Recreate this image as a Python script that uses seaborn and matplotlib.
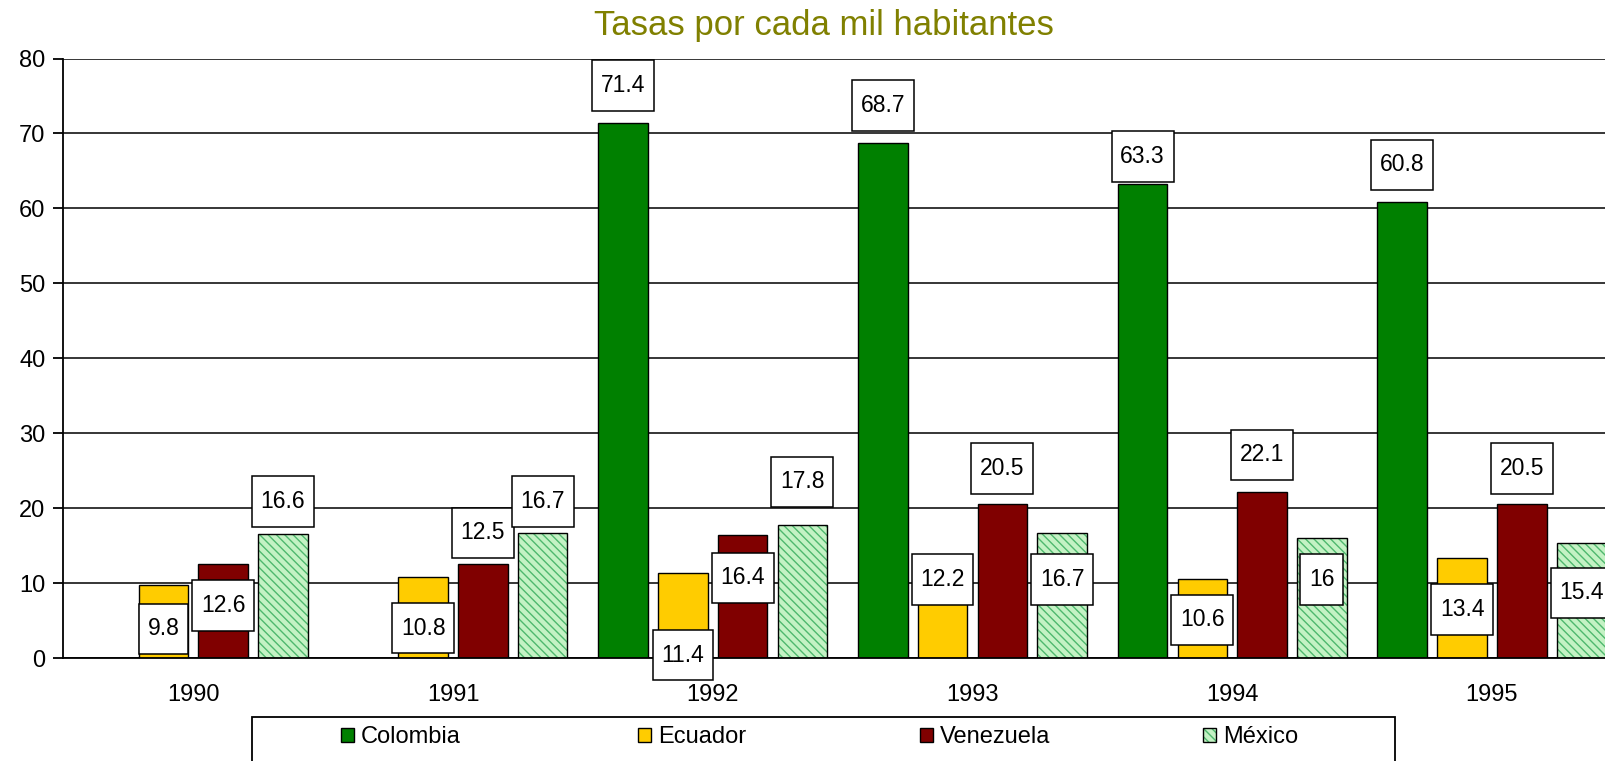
import numpy as np
import pandas as pd
import matplotlib
matplotlib.use('Agg')
import matplotlib.pyplot as plt
from matplotlib.patches import Rectangle
from matplotlib.path import Path
from matplotlib.colors import to_rgba
import seaborn as sns

# data
years = ['1990', '1991', '1992', '1993', '1994', '1995']
series = ['Colombia', 'Ecuador', 'Venezuela', 'México']
colombia = [np.nan, np.nan, 71.4, 68.7, 63.3, 60.8]
ecuador = [9.8, 10.8, 11.4, 12.2, 10.6, 13.4]
venezuela = [12.6, 12.5, 16.4, 20.5, 22.1, 20.5]
mexico = [16.6, 16.7, 17.8, 16.7, 16.0, 15.4]

# where each value label box sits (centre, in data units)
label_y = {
    'Colombia': [np.nan, np.nan, 76.4, 73.7, 66.9, 65.8],
    'Ecuador': [3.9, 4.0, 0.4, 10.5, 5.1, 6.5],
    'Venezuela': [7.0, 16.7, 10.7, 25.3, 27.1, 25.3],
    'México': [20.9, 20.9, 23.5, 10.5, 10.5, 8.7],
}

palette = {'Colombia': '#008000', 'Ecuador': '#FFCC00',
           'Venezuela': '#800000', 'México': '#C4F2C4'}
HATCH_COLOR = '#4FB86E'

# left edge of each legend entry, figure fraction
legend_x = [0.2123, 0.3973, 0.5729, 0.7491]

df = pd.DataFrame({
    'year': years * 4,
    'serie': [s for s in series for _ in years],
    'valor': colombia + ecuador + venezuela + mexico,
})

sns.set_style('white')
plt.rcParams['font.family'] = ['Liberation Sans', 'DejaVu Sans']
plt.rcParams['text.color'] = 'black'
plt.rcParams['xtick.color'] = 'black'
plt.rcParams['ytick.color'] = 'black'
plt.rcParams['hatch.linewidth'] = 1.0


def label_box(x0, y0, width, height, mutation_size):
    # Excel-like label box: wider vertical padding than horizontal
    padx = 0.38 * mutation_size
    pady = 0.6 * mutation_size
    x0, y0 = x0 - padx, y0 - pady
    x1, y1 = x0 + width + 2 * padx, y0 + height + 2 * pady
    return Path([(x0, y0), (x1, y0), (x1, y1), (x0, y1), (x0, y0)], closed=True)


fig = plt.figure(figsize=(16.06, 7.61), dpi=100)
ax = fig.add_axes([0.0395, 0.1353, 0.9703, 0.7878])

sns.barplot(data=df, x='year', y='valor', hue='serie', hue_order=series,
            order=years, palette=palette, width=0.92, gap=0.17,
            edgecolor='black', linewidth=1.0, saturation=1, errorbar=None,
            ax=ax, zorder=2)
ax.legend_.remove()

# hatch the México bars
for bar in ax.containers[3]:
    bar.set_hatch('\\\\\\\\')
    bar._hatch_color = to_rgba(HATCH_COLOR)

ax.set_xlim(-0.5, 5.5)
ax.set_ylim(0, 80)
ax.set_yticks(range(0, 81, 10))
ax.set_xlabel('')
ax.set_ylabel('')
ax.set_xticks(np.arange(-0.5, 5.6, 1), minor=True)
ax.tick_params(axis='x', which='major', length=0, pad=18.5, labelsize=17)
ax.tick_params(axis='x', which='minor', length=7, width=1.3, direction='out', color='black')
ax.tick_params(axis='y', length=7, width=1.3, direction='out', color='black',
               pad=6, labelsize=17, left=True)
ax.yaxis.grid(True, color='black', linewidth=1.1, zorder=0)
ax.set_axisbelow(True)
sns.despine(ax=ax, top=True, right=True)
for side in ['left', 'bottom']:
    ax.spines[side].set_color('black')
    ax.spines[side].set_linewidth(1.3)

# value labels in boxes
for s, cont in zip(series, ax.containers):
    for bar in cont:
        h = bar.get_height()
        if np.isnan(h):
            continue
        xc = bar.get_x() + bar.get_width() / 2
        idx = int(round(xc))
        ax.text(xc, label_y[s][idx], f'{h:g}', ha='center', va='center',
                fontsize=16.5, zorder=5, clip_on=False,
                bbox=dict(boxstyle=label_box, fc='white', ec='black', lw=1.1))

fig.text(0.513, 0.966, 'Tasas por cada mil habitantes', ha='center', va='center',
         fontsize=25, color='#808000')

# legend: box drawn by hand, one entry per slot
handles = [cont.patches[-1] for cont in ax.containers]
fig.add_artist(Rectangle((0.1569, -0.05), 0.7117, 0.1078, transform=fig.transFigure,
                         fill=False, ec='black', lw=1.3))
for h, s, lx in zip(handles, series, legend_x):
    fig.legend([h], [s], loc='center left', bbox_to_anchor=(lx, 0.031),
               frameon=False, fontsize=17, handlelength=0.55, handleheight=0.55,
               handletextpad=0.3, borderpad=0, borderaxespad=0)

fig.savefig('out.png', dpi=100)
